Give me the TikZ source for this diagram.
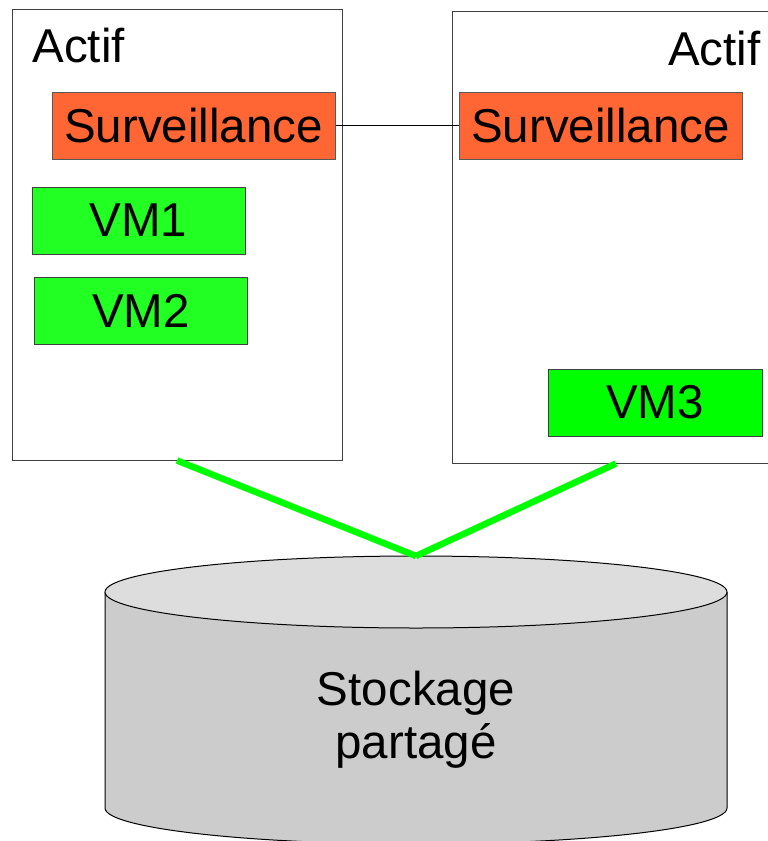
\documentclass[tikz,border=0pt]{standalone}
\usepackage{fontspec}
\setmainfont{Liberation Sans}

\definecolor{orsurv}{HTML}{FF6633}
\definecolor{vertvm}{HTML}{22FF22}
\definecolor{vertvmb}{HTML}{00FF00}
\definecolor{vertlien}{HTML}{00FF00}
\definecolor{grishaut}{HTML}{DDDDDD}
\definecolor{griscorps}{HTML}{CCCCCC}

\begin{document}
\begin{tikzpicture}[x=1pt,y=-1pt,
    grand/.style={font=\fontsize{47.5}{53}\selectfont},
    hote/.style={draw=black!75,line width=1pt,minimum width=330pt,minimum height=451pt,inner sep=0pt},
    surv/.style={grand,draw=black!65,fill=orsurv,line width=1pt,minimum width=283pt,minimum height=67pt,inner sep=0pt},
    vm/.style={grand,draw=black!75,fill=vertvm,line width=1pt,minimum width=213pt,minimum height=67pt,inner sep=0pt},
    lien/.style={vertlien,line width=6.5pt}]

    \useasboundingbox (0,0) rectangle (768,841);
    \clip (0,0) rectangle (768,841);

    % Hotes
    \node[hote] (hoteA) at (177,234.5) {};
    \node[hote,minimum width=328pt,minimum height=452pt] (hoteB) at (616,237) {};
    \node[grand,anchor=base west] (actifA) at (29,62) {Actif};
    \node[grand,anchor=base east] (actifB) at (764,65) {Actif};

    % Surveillance
    \node[surv] (survA) at (193.5,125.5) {Surveillance};
    \node[surv] (survB) at (600.5,125.5) {Surveillance};
    \draw[line width=1pt] (survA) -- (survB);

    % Machines virtuelles
    \foreach \n/\x/\y in {1/138.5/220.5, 2/141/310.5} {
        \node[vm] (vm\n) at (\x,\y) {VM\n};
    }
    \node[vm,fill=vertvmb,minimum width=214pt] (vm3) at (655,402.5) {VM3};

    % Stockage partage
    \draw[line width=1pt,fill=griscorps] (105,592) -- (105,808)
        arc[start angle=180,end angle=0,x radius=311,y radius=36] -- (727,592);
    \draw[line width=1pt,fill=grishaut] (416,592) ellipse[x radius=311,y radius=36];
    \node[grand,align=center] (stor) at (416,720) {Stockage\\partagé};
    \coordinate (stortop) at (416,556);

    % Liens
    \draw[lien] (hoteA.south) -- (stortop);
    \draw[lien] (hoteB.south) -- (stortop);

\end{tikzpicture}
\end{document}
